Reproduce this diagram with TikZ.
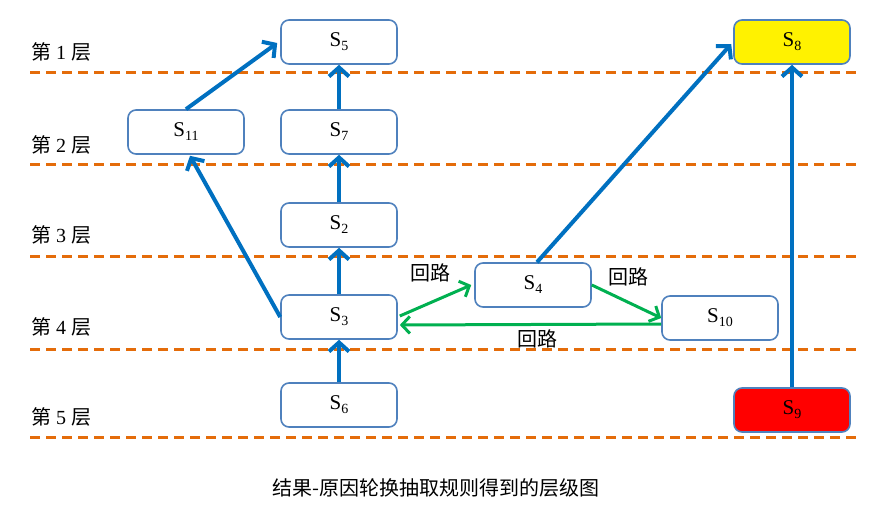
\documentclass[tikz,border=0pt]{standalone}
\usepackage{fontspec}
\setmainfont{Liberation Serif}
\newfontfamily\cjk{Noto Sans CJK SC}
\usetikzlibrary{arrows.meta}
\definecolor{boxblue}{HTML}{4F81BD}
\definecolor{arrblue}{HTML}{0070C0}
\definecolor{grn}{HTML}{00B050}
\definecolor{org}{HTML}{E46C0A}
\newcommand{\Ssub}[1]{S\raisebox{-4pt}{\fontsize{14}{14}\selectfont #1}}
\newcommand{\layertxt}[1]{{\cjk 第}\hspace{5pt}#1\hspace{5pt}{\cjk 层}}
\tikzset{
  sbox/.style={draw=boxblue, line width=1.6pt, rounded corners=8pt, minimum width=116pt,
    minimum height=44pt, inner sep=0pt, font=\fontsize{21}{21}\selectfont, fill=white},
  uparr/.style={draw=arrblue, line width=4pt, -{Straight Barb[length=9pt,width=20pt]}},
  loop/.style={draw=grn, line width=3pt, -{Straight Barb[length=8pt,width=17pt]}},
  layer/.style={draw=org, line width=3pt, dash pattern=on 10pt off 6pt},
  lbl/.style={font=\fontsize{20}{20}\selectfont, anchor=west, inner sep=0pt},
  looplbl/.style={font=\cjk\fontsize{20}{20}\selectfont, inner sep=0pt}
}
\begin{document}
\begin{tikzpicture}[x=1pt,y=-1pt]
\useasboundingbox (0,0) rectangle (886,505);
% layer lines
\foreach \yy/\nm in {73/l1,165/l2,256/l3,349/l4,437/l5}{
  \coordinate (\nm a) at (30,\yy);
  \coordinate (\nm b) at (862,\yy);
  \draw[layer] (\nm a) -- (\nm b);
}
% layer labels
\node[lbl] (L1) at (31,52) {\layertxt{1}};
\node[lbl] (L2) at (31,145) {\layertxt{2}};
\node[lbl] (L3) at (31,235) {\layertxt{3}};
\node[lbl] (L4) at (31,327) {\layertxt{4}};
\node[lbl] (L5) at (31,417) {\layertxt{5}};
% boxes
\node[sbox] (S5) at (339,42) {\Ssub{5}};
\node[sbox] (S11) at (186,132) {\Ssub{11}};
\node[sbox] (S7) at (339,132) {\Ssub{7}};
\node[sbox] (S2) at (339,225) {\Ssub{2}};
\node[sbox] (S3) at (339,317) {\Ssub{3}};
\node[sbox] (S4) at (533,285) {\Ssub{4}};
\node[sbox] (S10) at (720,318) {\Ssub{10}};
\node[sbox] (S6) at (339,405) {\Ssub{6}};
\node[sbox, fill=yellow] (S8) at (792,42) {\Ssub{8}};
\node[sbox, fill=red] (S9) at (792,410) {\Ssub{9}};
% blue arrows (yshift is in canvas direction: positive = up)
\draw[uparr] (S11.north) -- ([xshift=-3pt,yshift=-1pt]S5.west);
\draw[uparr] (S7) -- (S5);
\draw[uparr] (S2) -- (S7);
\draw[uparr] (S3) -- (S2);
\draw[uparr] (S6) -- (S3);
\draw[uparr] (S3.west) -- ([xshift=4pt,yshift=-1pt]S11.south);
\draw[uparr] ([xshift=4pt]S4.north) -- ([xshift=-2pt,yshift=-2pt]S8.west);
\draw[uparr] (S9) -- (S8);
% green loops
\draw[loop] ([xshift=2pt,yshift=1pt]S3.east) -- ([xshift=-3pt]S4.west);
\draw[loop] (S4.east) -- (S10.west);
\draw[loop] ([yshift=-6pt]S10.west) -- ([xshift=2pt,yshift=-8pt]S3.east);
\node[looplbl] (R1) at (430,273) {回路};
\node[looplbl] (R2) at (628,277) {回路};
\node[looplbl] (R3) at (537,339) {回路};
% caption
\node[font=\cjk\fontsize{20}{20}\selectfont, inner sep=0pt] (cap) at (436,488) {结果-原因轮换抽取规则得到的层级图};
\end{tikzpicture}
\end{document}
